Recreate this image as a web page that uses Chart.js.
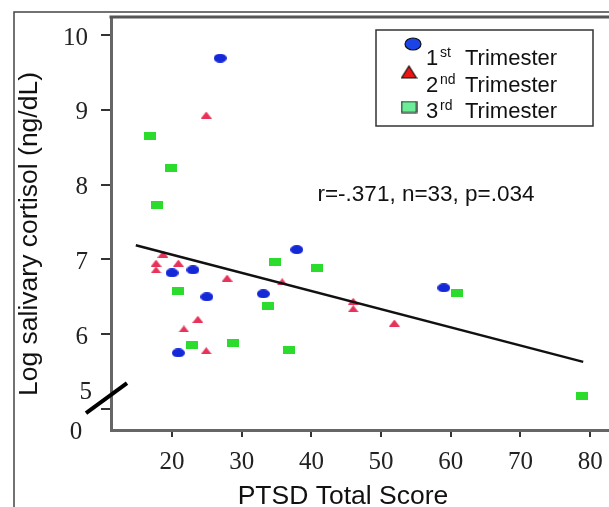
<!DOCTYPE html>
<html><head><meta charset="utf-8">
<script src="https://cdn.jsdelivr.net/npm/chart.js@4.4.1/dist/chart.umd.min.js"></script>
<style>html,body{margin:0;padding:0;background:#fff;}canvas{display:block;}</style>
</head><body>
<canvas id="c" width="609" height="507"></canvas>
<script>
// ---- data ----
const xTicks = [20, 30, 40, 50, 60, 70, 80];
const yTicks = [5, 6, 7, 8, 9, 10];
const firstTriX = [26.9, 37.9, 20.0, 23.0, 25.0, 33.1, 20.9, 59.0];
const firstTriY = [9.69, 7.13, 6.82, 6.86, 6.50, 6.54, 5.75, 6.62];
const secondTriX = [24.9, 18.7, 17.7, 17.7, 20.9, 27.9, 23.7, 21.7, 24.9, 35.8, 46.0, 46.0, 51.9];
const secondTriY = [8.93, 7.07, 6.95, 6.86, 6.95, 6.75, 6.20, 6.07, 5.78, 6.70, 6.44, 6.34, 6.15];
const thirdTriX = [16.8, 19.9, 17.8, 34.8, 40.8, 20.9, 33.8, 22.9, 28.8, 36.8, 60.9, 78.8];
const thirdTriY = [8.65, 8.22, 7.73, 6.97, 6.89, 6.58, 6.38, 5.86, 5.88, 5.79, 6.55, 5.17];
const fitX = [14.8, 79.0];
const fitY = [7.19, 5.63];
const legendParts = [['1', 'st', 'Trimester'], ['2', 'nd', 'Trimester'], ['3', 'rd', 'Trimester']];
const statText = 'r=-.371, n=33, p=.034';
const xTitle = 'PTSD Total Score';
const yTitle = 'Log salivary cortisol (ng/dL)';
const breakLabel = '0';

function pts(xs, ys) { return xs.map((x, i) => ({ x: x, y: ys[i] })); }

function makeMarker(kind, w, h, fill, stroke) {
  const pad = stroke ? 1 : 0;
  const c = document.createElement('canvas');
  c.width = w + pad * 2; c.height = h + pad * 2;
  const g = c.getContext('2d');
  g.fillStyle = fill;
  g.beginPath();
  if (kind === 'ellipse') g.ellipse(c.width / 2, c.height / 2, w / 2, h / 2, 0, 0, Math.PI * 2);
  else if (kind === 'tri') { g.moveTo(pad + w / 2, pad); g.lineTo(pad + w, pad + h); g.lineTo(pad, pad + h); g.closePath(); }
  else g.rect(pad, pad, w, h);
  g.fill();
  if (stroke) { g.strokeStyle = stroke; g.lineWidth = 1.2; g.stroke(); }
  return c;
}

const blueC = '#1428d8', redC = '#e8325a', greenC = '#2cdc2c';
const ellipseImg = makeMarker('ellipse', 13, 9, blueC);
const triImg = makeMarker('tri', 11, 7, redC);
const rectImg = makeMarker('rect', 12, 8, greenC);
const legendMarkers = [
  makeMarker('ellipse', 16, 12, '#1a44e8', '#111'),
  makeMarker('tri', 15, 12, '#ee1414', '#111'),
  makeMarker('rect', 15, 11, '#6cee98', '#111')
];

const zeroPad = () => ({ left: 0, top: 0, right: 0, bottom: 0 });
function noPad(s) {
  s.paddingLeft = 0; s.paddingRight = 0; s.paddingTop = 0; s.paddingBottom = 0;
  s.getPadding = zeroPad;
}

const deco = {
  id: 'deco',
  afterDraw(chart) {
    const ctx = chart.ctx, ca = chart.chartArea;
    const ys = chart.scales.y;
    ctx.save();
    // outer frame
    ctx.strokeStyle = '#444'; ctx.lineWidth = 1.5;
    ctx.beginPath(); ctx.moveTo(14, 507); ctx.lineTo(14, 12); ctx.lineTo(609, 12); ctx.stroke();
    // plot top border
    ctx.strokeStyle = '#555'; ctx.lineWidth = 3;
    ctx.beginPath(); ctx.moveTo(ca.left - 1.5, ca.top); ctx.lineTo(ca.right, ca.top); ctx.stroke();
    // axis break slash
    const p5 = ys.getPixelForValue(5);
    ctx.strokeStyle = '#000'; ctx.lineWidth = 4;
    ctx.beginPath(); ctx.moveTo(ca.left - 25, p5 + 4); ctx.lineTo(ca.left + 16, p5 - 26); ctx.stroke();
    // special y labels
    ctx.fillStyle = '#222'; ctx.font = '25px "Liberation Serif"';
    ctx.textAlign = 'right'; ctx.textBaseline = 'middle';
    ctx.fillText(String(yTicks[0]), ca.left - 19, p5 - 17);
    ctx.textAlign = 'center';
    ctx.fillText(breakLabel, ca.left - 35, ca.bottom + 2);
    // axis titles
    ctx.fillStyle = '#111'; ctx.font = '26.5px "Liberation Sans"';
    ctx.textAlign = 'center'; ctx.textBaseline = 'middle';
    ctx.fillText(xTitle, 343, 497);
    ctx.save(); ctx.translate(30, 234); ctx.rotate(-Math.PI / 2); ctx.fillText(yTitle, 0, 0); ctx.restore();
    // stats
    ctx.font = '22.5px "Liberation Sans"';
    ctx.fillText(statText, 426, 195);
    // legend
    ctx.strokeStyle = '#333'; ctx.lineWidth = 1.5;
    ctx.strokeRect(376, 30, 217, 96);
    const mkPos = [[413, 44], [409, 72], [409, 107]];
    const base = [65, 92, 118];
    for (let i = 0; i < 3; i++) {
      const m = legendMarkers[i];
      ctx.drawImage(m, mkPos[i][0] - m.width / 2, mkPos[i][1] - m.height / 2);
      ctx.fillStyle = '#111'; ctx.textAlign = 'left'; ctx.textBaseline = 'alphabetic';
      ctx.font = '22px "Liberation Sans"';
      ctx.fillText(legendParts[i][0], 426, base[i]);
      ctx.fillText(legendParts[i][2], 465, base[i]);
      ctx.font = '14px "Liberation Sans"';
      ctx.fillText(legendParts[i][1], 440, base[i] - 8);
    }
    ctx.restore();
  }
};

const chart = new Chart(document.getElementById('c'), {
  data: {
    datasets: [
      { type: 'line', label: 'fit', data: pts(fitX, fitY), borderColor: '#111', borderWidth: 2.5,
        pointRadius: 0, fill: false, order: 0 },
      { type: 'scatter', label: '1st Trimester', data: pts(firstTriX, firstTriY), pointStyle: ellipseImg, pointRadius: 6, order: 1 },
      { type: 'scatter', label: '2nd Trimester', data: pts(secondTriX, secondTriY), pointStyle: triImg, pointRadius: 6, order: 1 },
      { type: 'scatter', label: '3rd Trimester', data: pts(thirdTriX, thirdTriY), pointStyle: rectImg, pointRadius: 6, order: 1 }
    ]
  },
  options: {
    responsive: false, animation: false,
    layout: { autoPadding: false, padding: { left: 0, right: 0, top: 17, bottom: 0 } },
    plugins: { legend: { display: false }, tooltip: { enabled: false } },
    scales: {
      x: {
        type: 'linear', min: 11.24, max: 82.7,
        afterBuildTicks: s => { s.ticks = xTicks.map(v => ({ value: v })); },
        afterFit: s => { s.height = 77; noPad(s); },
        border: { color: '#666', width: 3 },
        grid: { drawOnChartArea: false, drawTicks: true, tickLength: 7, tickColor: '#333', lineWidth: 2 },
        ticks: { color: '#222', font: { family: 'Liberation Serif', size: 25 }, padding: 10, maxRotation: 0, autoSkip: false }
      },
      y: {
        type: 'linear', min: 4.72, max: 10.24,
        afterBuildTicks: s => { s.ticks = yTicks.map(v => ({ value: v })); },
        afterFit: s => { s.width = 111; noPad(s); },
        border: { color: '#666', width: 3 },
        grid: { drawOnChartArea: false, drawTicks: true, tickLength: 10, tickColor: '#333', lineWidth: 2 },
        ticks: { color: '#222', font: { family: 'Liberation Serif', size: 25 }, padding: 13, labelOffset: 3,
          autoSkip: false, callback: v => (v === yTicks[0] ? '' : String(v)) }
      }
    }
  },
  plugins: [deco]
});
</script>
</body></html>
